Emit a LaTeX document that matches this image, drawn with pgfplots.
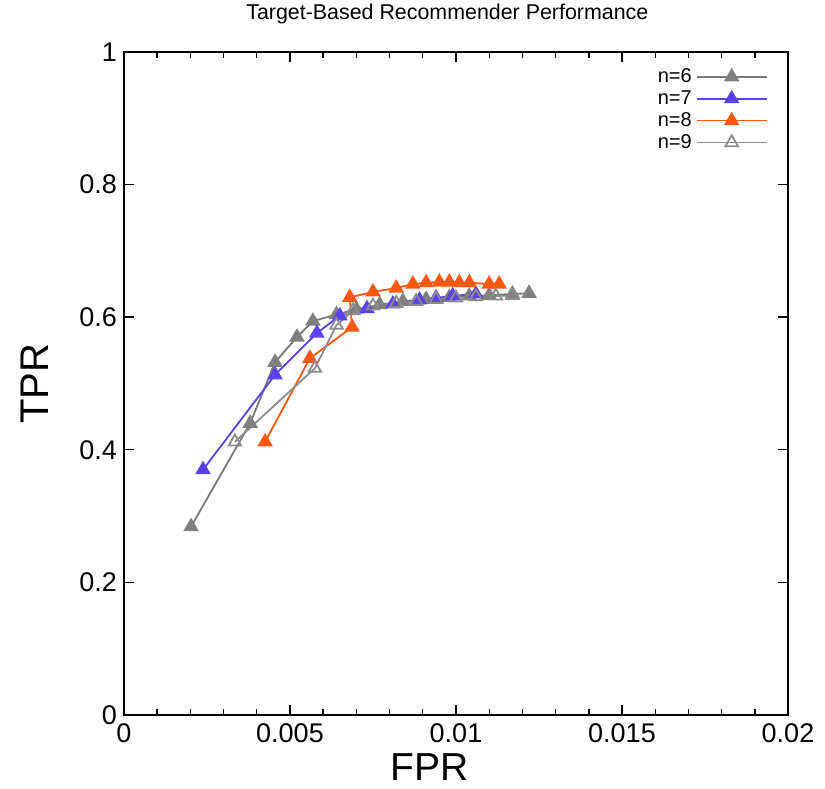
\documentclass[border=0pt]{standalone}
\usepackage{fontspec}
\setmainfont{Liberation Sans}
\usepackage{pgfplots}
\pgfplotsset{compat=1.18}
\definecolor{cgray}{RGB}{128,128,128}
\definecolor{cgrayl}{RGB}{120,120,120}
\definecolor{cblue}{RGB}{92,66,238}
\definecolor{corange}{RGB}{255,88,18}
\definecolor{cgray9}{RGB}{140,140,140}
\begin{document}
\begin{tikzpicture}
\begin{axis}[
  name=ax,
  scale only axis,
  width=332pt, height=331.5pt,
  xmin=0, xmax=0.02, ymin=0, ymax=1,
  xtick={0,0.005,0.01,0.015,0.02},
  xticklabels={0,0.005,0.01,0.015,0.02},
  ytick={0,0.2,0.4,0.6,0.8,1},
  yticklabels={0,0.2,0.4,0.6,0.8,1},
  scaled x ticks=false,
  minor x tick num=4,
  tick align=inside,
  major tick length=5pt,
  minor tick length=3pt,
  every tick/.style={black, line width=0.7pt},
  axis line style={line width=1pt},
  /pgf/number format/assume math mode=true,
  ticklabel style={font=\fontsize{13.5}{16}\selectfont},
  xticklabel style={yshift=-1pt},
  title={Target-Based Recommender Performance},
  title style={font=\fontsize{10.7}{12}\selectfont, at={(axis description cs:0.487,1)}, anchor=center, yshift=13pt, inner sep=0pt},
  xlabel={FPR},
  ylabel={TPR},
  xlabel style={font=\fontsize{19.5}{22}\selectfont, at={(axis description cs:0.46,-0.078)}, anchor=center, inner sep=0pt},
  ylabel style={font=\fontsize{20}{24}\selectfont, at={(axis description cs:-0.134,0.5)}, anchor=center, inner sep=0pt},
  legend style={at={(axis description cs:1,1)}, anchor=north east, xshift=-8pt, yshift=-4pt,
    draw=none, fill=none, font=\fontsize{10}{11}\selectfont, row sep=-1.5pt, inner sep=2pt},
  legend cell align=right,
  legend plot pos=right,
  legend image code/.code={\draw[mark repeat=2,mark phase=2] plot coordinates {(0pt,0pt) (17.5pt,0pt) (35pt,0pt)};},
  every axis plot/.append style={line width=0.9pt, mark=triangle*, mark size=3.6pt},
]
% n=6
\addplot[color=cgrayl, mark options={fill=cgray, draw=cgray}] coordinates {
(0.00202,0.284) (0.0038,0.440) (0.00455,0.532) (0.00521,0.570) (0.00569,0.594)
(0.0064,0.604) (0.0070,0.612) (0.0077,0.619) (0.0084,0.624) (0.0091,0.627)
(0.0098,0.630) (0.0104,0.632) (0.0110,0.633) (0.0117,0.635) (0.0122,0.636)};
\addlegendentry{n=6}
% n=7
\addplot[color=cblue, mark options={fill=cblue, draw=cblue}] coordinates {
(0.00238,0.370) (0.00455,0.513) (0.00581,0.576) (0.0065,0.602) (0.00732,0.613)
(0.0081,0.620) (0.0089,0.626) (0.0094,0.629) (0.0099,0.632) (0.0106,0.635)};
\addlegendentry{n=7}
% n=8
\addplot[color=corange, mark options={fill=corange, draw=corange}] coordinates {
(0.00425,0.412) (0.0056,0.538) (0.00687,0.585) (0.0068,0.630) (0.0075,0.638)
(0.0082,0.644) (0.0087,0.650) (0.0091,0.652) (0.0095,0.653) (0.0098,0.653)
(0.0101,0.652) (0.0104,0.652) (0.0110,0.650) (0.0113,0.650)};
\addlegendentry{n=8}
% n=9
\addplot[color=cgray9, mark=triangle, mark options={fill=white, draw=cgray9}] coordinates {
(0.00334,0.412) (0.00575,0.523) (0.0064,0.588) (0.0069,0.610) (0.0075,0.617)
(0.0082,0.621) (0.0088,0.624) (0.0094,0.627) (0.0100,0.629) (0.0106,0.631)
(0.0112,0.632) (0.0117,0.633)};
\addlegendentry{n=9}
\end{axis}
\pgfresetboundingbox
\path ([xshift=-62pt,yshift=-37pt]ax.south west) rectangle ([xshift=18.5pt,yshift=26pt]ax.north east);
\end{tikzpicture}
\end{document}
